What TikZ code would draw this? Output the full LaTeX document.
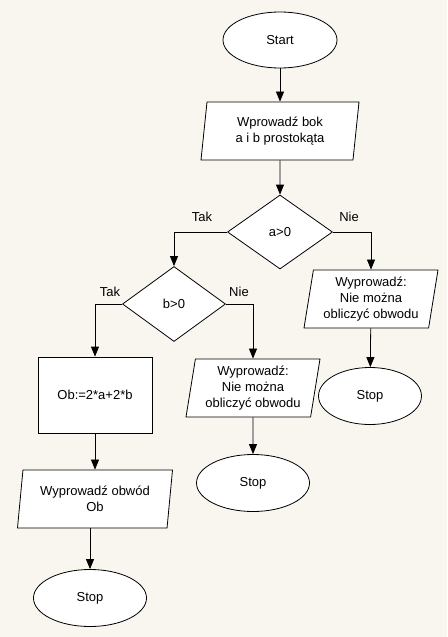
\documentclass[tikz,border=0pt]{standalone}
\usepackage{fontspec}
\setmainfont{Liberation Sans}
\usetikzlibrary{shapes.geometric,arrows.meta}
\definecolor{tlo}{RGB}{249,246,240}
\tikzset{
  blok/.style={draw,fill=white,line width=0.8pt,inner sep=0pt,align=center,
    font=\fontsize{13}{16}\selectfont},
  owal/.style={blok,ellipse},
  we/.style={blok,trapezium,trapezium left angle=78,trapezium right angle=102,
    trapezium stretches body,minimum height=58pt},
  romb/.style={blok,diamond},
  prost/.style={blok,rectangle},
  opis/.style={font=\fontsize{13}{16}\selectfont},
  strz/.style={-{Triangle[length=10pt,width=8pt]},line width=0.8pt}
}
\begin{document}
\begin{tikzpicture}[x=1pt,y=-1pt]
    \fill[tlo] (0,0) rectangle (447,637);
    \useasboundingbox (0,0) rectangle (447,637);
    
    \node[owal,minimum width=114pt,minimum height=56pt] (S) at (280,40) {Start};
    \node[we,minimum width=158pt] (W) at (280,131) {Wprowadź bok\\a i b prostokąta};
    \node[romb,minimum width=105pt,minimum height=74pt] (A) at (280,232) {a>0};
    \node[we,minimum width=134pt] (N1) at (371,299) {Wyprowadź:\\Nie można\\obliczyć obwodu};
    \node[owal,minimum width=103pt,minimum height=57pt] (K1) at (370,396) {Stop};
    \node[romb,minimum width=103pt,minimum height=75pt] (B) at (174,304) {b>0};
    \node[we,minimum width=134pt] (N2) at (253,388) {Wyprowadź:\\Nie można\\obliczyć obwodu};
    \node[owal,minimum width=113pt,minimum height=57pt] (K2) at (253,483) {Stop};
    \node[prost,minimum width=114pt,minimum height=76pt] (R) at (95,395) {Ob:=2*a+2*b};
    \node[we,minimum width=155pt] (O) at (95,499) {Wyprowadź obwód\\Ob};
    \node[owal,minimum width=113pt,minimum height=57pt] (K3) at (90,598) {Stop};
    
    \node[opis] (TA) at (202,217) {Tak};
    \node[opis] (NA) at (349,217) {Nie};
    \node[opis] (TB) at (110,292) {Tak};
    \node[opis] (NB) at (239,292) {Nie};
    
    \draw[strz] (S) -- (W);
    \draw[strz] (W) -- (A);
    \draw[strz] (A.west) -| (B.north);
    \draw[strz] (A.east) -| (N1.north);
    \draw[strz] (N1) -- (K1);
    \draw[strz] (B.west) -| (R.north);
    \draw[strz] (B.east) -| (N2.north);
    \draw[strz] (N2) -- (K2);
    \draw[strz] (R) -- (O);
    \draw[strz] (K3 |- O.south) -- (K3.north);
    
\end{tikzpicture}
\end{document}
